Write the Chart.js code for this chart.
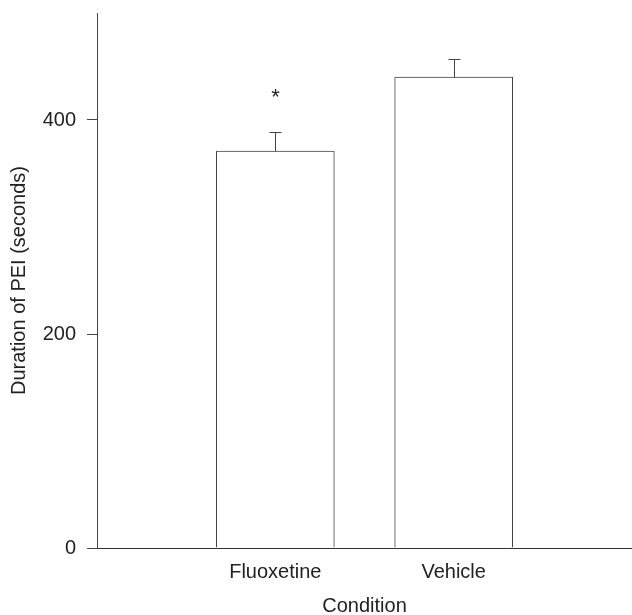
<!DOCTYPE html>
<html>
<head>
<meta charset="utf-8">
<script src="https://cdn.jsdelivr.net/npm/chart.js@4"></script>
<style>
  html, body { margin: 0; padding: 0; background: #fff; }
  #wrap { width: 632px; height: 615px; position: relative; }
</style>
</head>
<body>
<div id="wrap"><canvas id="chart"></canvas></div>
<script>
// ─── Data ────────────────────────────────────────────────────
const categories = ['', 'Fluoxetine', 'Vehicle', ''];
const meanValues = [null, 371, 440, null];
const errValues = [null, 18, 17, null];
const sigMarks = [null, '*', null, null];
const yTicks = [0, 200, 400];

const FONT = 'Liberation Sans, Arial, sans-serif';
const AXIS = '#444';

// ─── Error bars + significance marks ─────────────────────────
const errorBarPlugin = {
  id: 'errorBars',
  afterDatasetsDraw(chart) {
    const { ctx, scales: { x, y } } = chart;
    ctx.save();
    ctx.strokeStyle = '#444';
    ctx.lineWidth = 1;
    meanValues.forEach((v, i) => {
      if (v == null) return;
      const px = Math.round(x.getPixelForValue(i)) + 0.5;
      const yTop = Math.round(y.getPixelForValue(v + errValues[i])) + 0.5;
      const yBar = y.getPixelForValue(v);
      ctx.beginPath();
      ctx.moveTo(px, yBar);
      ctx.lineTo(px, yTop);
      ctx.moveTo(px - 6, yTop);
      ctx.lineTo(px + 6, yTop);
      ctx.stroke();
      if (sigMarks[i]) {
        ctx.fillStyle = '#222';
        ctx.font = '22px ' + FONT;
        ctx.textAlign = 'center';
        ctx.textBaseline = 'middle';
        ctx.fillText(sigMarks[i], px, y.getPixelForValue(v + errValues[i] + 30) - 2);
      }
    });
    ctx.restore();
  }
};

new Chart(document.getElementById('chart'), {
  type: 'bar',
  data: {
    labels: categories,
    datasets: [{
      data: meanValues,
      backgroundColor: '#ffffff',
      borderColor: '#444',
      borderWidth: 1,
      barThickness: 118,
      borderSkipped: 'bottom'
    }]
  },
  options: {
    responsive: true,
    maintainAspectRatio: false,
    animation: false,
    devicePixelRatio: 1,
    layout: { padding: { top: 13, right: -10, left: 0, bottom: 0 } },
    plugins: { legend: { display: false }, tooltip: { enabled: false } },
    scales: {
      x: {
        offset: false,
        grid: { display: false },
        border: { display: true, color: '#333', width: 1 },
        ticks: { color: '#222', font: { family: FONT, size: 20 }, padding: 4, maxRotation: 0, autoSkip: false },
        title: { display: true, text: 'Condition', color: '#222', font: { family: FONT, size: 20 }, padding: { top: 0, bottom: -3 } },
        afterFit(scale) { scale.height = 67; scale.paddingLeft = 0; scale.paddingRight = 0; }
      },
      y: {
        min: 0,
        max: 500,
        grid: { display: true, drawOnChartArea: false, drawTicks: true, tickLength: 10, color: AXIS },
        border: { display: true, color: AXIS, width: 1 },
        afterBuildTicks(scale) { scale.ticks = yTicks.map(v => ({ value: v })); },
        ticks: { color: '#222', font: { family: FONT, size: 20 }, padding: 11 },
        title: { display: true, text: 'Duration of PEI (seconds)', color: '#222', font: { family: FONT, size: 20 }, padding: { top: 7, bottom: 0 } },
        afterFit(scale) { scale.width = 97; scale.paddingTop = 0; scale.paddingBottom = 0; }
      }
    }
  },
  plugins: [errorBarPlugin]
});
</script>
</body>
</html>
